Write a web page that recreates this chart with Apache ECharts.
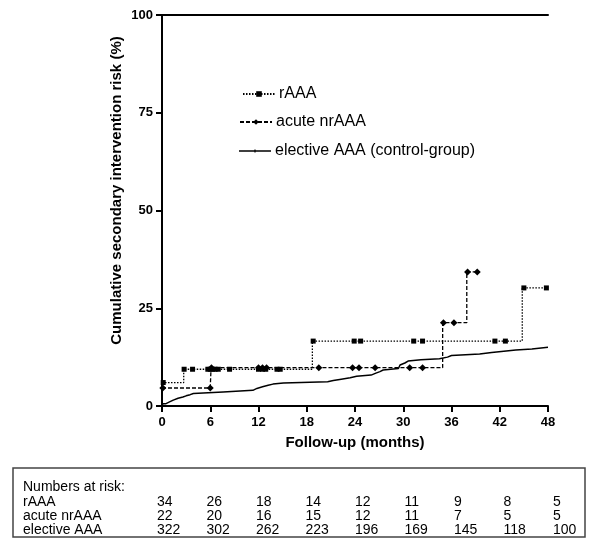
<!DOCTYPE html>
<html>
<head>
<meta charset="utf-8">
<script src="https://cdn.jsdelivr.net/npm/echarts@6/dist/echarts.min.js"></script>
<style>
html,body{margin:0;padding:0;background:#fff;}
#chart{width:592px;height:538px;}
</style>
</head>
<body>
<div id="chart"></div>
<script>
// ---------------- data ----------------
const xTicks = [0, 6, 12, 18, 24, 30, 36, 42, 48];
const yTicks = [0, 25, 50, 75, 100];
const seriesNames = ['rAAA', 'acute nrAAA', 'elective AAA (control-group)'];

// Kaplan-Meier steps: [month, cumulative risk %] (value holds until next step)
const rAAASteps = [[0, 6.0], [2.7, 9.4], [18.7, 16.6], [44.8, 30.2], [48, 30.2]];
const rAAACensored = [[0.15, 6.0], [2.75, 9.4], [3.8, 9.4], [5.7, 9.4], [6.0, 9.4], [6.3, 9.4], [6.6, 9.4], [7.0, 9.4], [8.4, 9.4],
  [12.0, 9.4], [12.5, 9.4], [12.9, 9.4], [14.3, 9.4], [14.7, 9.4], [18.8, 16.6], [23.9, 16.6], [24.7, 16.6],
  [31.3, 16.6], [32.4, 16.6], [41.4, 16.6], [42.7, 16.6], [45.0, 30.2], [47.8, 30.2]];

const acuteSteps = [[0, 4.6], [6.1, 9.8], [34.9, 21.3], [37.9, 34.3], [39.2, 34.3]];
const acuteCensored = [[0.1, 4.6], [6.0, 4.6], [6.15, 9.8], [12.0, 9.8], [12.5, 9.8], [13.0, 9.8], [19.5, 9.8], [23.7, 9.8],
  [24.5, 9.8], [26.5, 9.8], [30.8, 9.8], [32.4, 9.8], [35.0, 21.3], [36.3, 21.3], [38.0, 34.3], [39.2, 34.3]];

const electiveSteps = [[0, 0], [0.1, 0.6], [0.5, 1.1], [1.0, 1.5], [1.4, 2.0], [2.0, 2.3], [2.6, 2.6], [3.0, 2.9], [3.5, 3.2],
  [3.9, 3.6], [7.6, 4.0], [11.3, 4.5], [11.8, 4.9], [12.5, 5.3], [13.2, 5.6], [13.8, 5.9], [15.1, 6.2], [20.6, 6.5],
  [21.3, 6.8], [22.1, 7.2], [23.4, 7.6], [24.2, 7.9], [26.0, 8.4], [26.6, 8.8], [27.1, 9.2], [27.5, 9.6], [29.4, 10.0],
  [29.6, 10.5], [29.8, 11.0], [30.2, 11.5], [30.6, 11.8], [32.2, 12.1], [34.5, 12.5], [35.5, 12.9], [36.0, 13.3],
  [39.5, 13.7], [41.0, 14.0], [42.5, 14.3], [44.0, 14.6], [46.0, 15.0], [48, 15.0]];

// Numbers at risk table
const riskTitle = 'Numbers at risk:';
const riskRowLabels = ['rAAA', 'acute nrAAA', 'elective AAA'];
const riskRAAA = [34, 26, 18, 14, 12, 11, 9, 8, 5];
const riskAcute = [22, 20, 16, 15, 12, 11, 7, 5, 5];
const riskElective = [322, 302, 262, 223, 196, 169, 145, 118, 100];

// ---------------- build ----------------
const FONT = '"Liberation Sans", Arial, sans-serif';

function buildData(steps, censored) {
  const items = steps.map(p => ({ value: p, symbol: 'none', t: p[0], k: 0 }))
    .concat(censored.map(p => ({ value: p, t: p[0], k: 1 })));
  items.sort((a, b) => a.t - b.t || a.k - b.k);
  return items.map(it => it.symbol ? { value: it.value, symbol: it.symbol } : { value: it.value });
}

const chart = echarts.init(document.getElementById('chart'), null, { renderer: 'canvas' });

const riskRows = [riskRAAA, riskAcute, riskElective];
const graphics = [];
graphics.push({
  type: 'rect', silent: true,
  shape: { x: 13, y: 468, width: 572, height: 69 },
  style: { fill: 'none', stroke: '#444', lineWidth: 1.5 }
});
graphics.push({ type: 'text', x: 23, y: 487, style: { text: riskTitle, font: '14px ' + FONT, fill: '#000', verticalAlign: 'middle' } });
riskRowLabels.forEach((lab, r) => {
  const y = 502 + r * 14.3;
  graphics.push({ type: 'text', x: 23, y: y, style: { text: lab, font: '14px ' + FONT, fill: '#000', verticalAlign: 'middle' } });
  riskRows[r].forEach((v, i) => {
    graphics.push({ type: 'text', x: 157 + 49.5 * i, y: y, style: { text: String(v), font: '14px ' + FONT, fill: '#000', verticalAlign: 'middle' } });
  });
});

const axisLabelStyle = { color: '#000', fontFamily: FONT, fontWeight: 'bold', fontSize: 13 };

const option = {
  animation: false,
  backgroundColor: '#fff',
  grid: { left: 162, right: 44, top: 15, bottom: 132, containLabel: false, outerBoundsMode: 'none' },
  xAxis: [{
    type: 'value', min: 0, max: 48, interval: 6,
    name: 'Follow-up (months)', nameLocation: 'middle', nameGap: 29, nameMoveOverlap: false,
    nameTextStyle: { color: '#000', fontFamily: FONT, fontWeight: 'bold', fontSize: 15 },
    axisLine: { show: true, onZero: false, lineStyle: { color: '#000', width: 2 } },
    axisTick: { show: true, inside: false, length: 6, lineStyle: { color: '#000', width: 2 } },
    axisLabel: Object.assign({ margin: 10, formatter: v => (xTicks.indexOf(v) >= 0 ? String(v) : '') }, axisLabelStyle),
    splitLine: { show: false }
  }, {
    type: 'value', min: 0, max: 48, position: 'top',
    axisLine: { show: true, onZero: false, lineStyle: { color: '#000', width: 2 } },
    axisTick: { show: false }, axisLabel: { show: false }, splitLine: { show: false }
  }],
  yAxis: {
    type: 'value', min: 0, max: 100, interval: 25,
    name: 'Cumulative secondary intervention risk (%)', nameLocation: 'middle', nameGap: 38, nameMoveOverlap: false,
    nameTextStyle: { color: '#000', fontFamily: FONT, fontWeight: 'bold', fontSize: 15, padding: [0, 0, 0, 40] },
    axisLine: { show: true, onZero: false, lineStyle: { color: '#000', width: 2 } },
    axisTick: { show: true, inside: false, length: 6, lineStyle: { color: '#000', width: 2 } },
    axisLabel: Object.assign({ margin: 9, formatter: v => (yTicks.indexOf(v) >= 0 ? String(v) : '') }, axisLabelStyle),
    splitLine: { show: false }
  },
  legend: [
    { data: [seriesNames[0]], left: 237, top: 81 },
    { data: [seriesNames[1]], left: 234, top: 109 },
    { data: [{ name: seriesNames[2], icon: 'path://M0,3.3h32v1.4h-32z M15.4,2.6h1.2v2.8h-1.2z' }], left: 234, top: 138 }
  ].map(l => Object.assign({
    orient: 'horizontal', itemWidth: 32, itemHeight: 7, itemGap: 4,
    textStyle: { color: '#000', fontFamily: FONT, fontSize: 16, padding: [0, 0, 0, -1] },
    selectedMode: false
  }, l)),
  series: [
    {
      name: seriesNames[0], type: 'line', step: 'end', data: buildData(rAAASteps, rAAACensored),
      symbol: 'rect', symbolSize: 5, showSymbol: true, color: '#000',
      lineStyle: { color: '#000', width: 1.3, type: [1.5, 1.5] },
      itemStyle: { color: '#000' }, z: 3
    },
    {
      name: seriesNames[1], type: 'line', step: 'end', data: buildData(acuteSteps, acuteCensored),
      symbol: 'diamond', symbolSize: 7, showSymbol: true, color: '#000',
      lineStyle: { color: '#000', width: 1.3, type: [4, 2] },
      itemStyle: { color: '#000' }, z: 3
    },
    {
      name: seriesNames[2], type: 'line', step: 'end', data: electiveSteps,
      symbol: 'none', showSymbol: false, color: '#000',
      lineStyle: { color: '#000', width: 1.5, type: 'solid' },
      itemStyle: { color: '#000' }, z: 2
    }
  ],
  graphic: graphics
};
chart.setOption(option);
</script>
</body>
</html>
